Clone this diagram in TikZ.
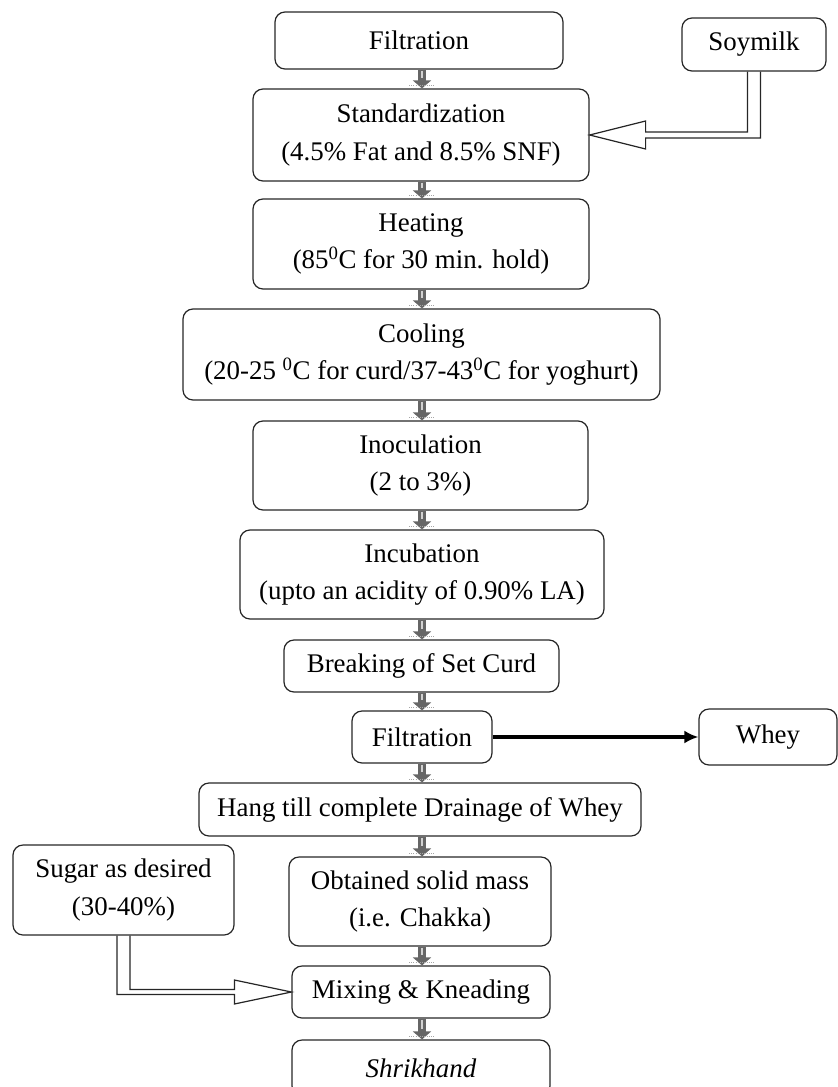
\documentclass[tikz,border=0pt]{standalone}
\usepackage{fontspec}
\setmainfont{Liberation Serif}
\usetikzlibrary{arrows.meta,calc}
\begin{document}
\begin{tikzpicture}[x=1bp,y=-1bp,
  box/.style={draw=black!85, line width=1.2bp, rounded corners=10bp, inner sep=0pt,
    align=center, font=\fontsize{27}{38}\selectfont},
  grayflow/.style={draw=black!60, line width=8bp, -{Triangle[width=18bp,length=8bp]}},
  grayshine/.style={draw=white!65!gray, line width=1.8bp},
  fringe/.style={draw=black!35, line width=1.2bp, dash pattern=on 1bp off 1.2bp},
  hollow/.style={draw=black!85, line width=1.2bp, line join=miter},
  bold/.style={draw=black, line width=3.5bp, -{Latex[length=14bp,width=13bp]}}]
\path[use as bounding box] (0,0) rectangle (838,1087);
\clip (0,0) rectangle (838,1087);

\node[box, minimum width=288bp, minimum height=57bp] (f1) at (419,40.5) {Filtration};
\node[box, minimum width=336bp, minimum height=92bp] (std) at (421,135) {Standardization\\(4.5\% Fat and 8.5\% SNF)};
\node[box, minimum width=144bp, minimum height=53bp] (soy) at (754,44.5) {Soymilk};
\node[box, minimum width=336bp, minimum height=90bp] (heat) at (421,244) {Heating\\(85\textsuperscript{0}C for 30 min. hold)};
\node[box, minimum width=477bp, minimum height=91bp] (cool) at (421.5,354.5) {Cooling\\(20-25 \textsuperscript{0}C for curd/37-43\textsuperscript{0}C for yoghurt)};
\node[box, minimum width=335bp, minimum height=89bp] (inoc) at (420.5,465.5) {Inoculation\\(2 to 3\%)};
\node[box, minimum width=364bp, minimum height=89bp] (incub) at (422,574.5) {Incubation\\(upto an acidity of 0.90\% LA)};
\node[box, minimum width=275bp, minimum height=52bp] (brk) at (421.5,666) {Breaking of Set Curd};
\node[box, minimum width=140bp, minimum height=52bp] (f2) at (422,737) {Filtration};
\node[box, minimum width=138bp, minimum height=56bp] (whey) at (768,737) {Whey};
\node[box, minimum width=442bp, minimum height=53bp] (hang) at (420,809.5) {Hang till complete Drainage of Whey};
\node[box, minimum width=221bp, minimum height=90bp] (sugar) at (123.5,890) {Sugar as desired\\(30-40\%)};
\node[box, minimum width=262bp, minimum height=89bp] (obt) at (420,901.5) {Obtained solid mass\\(i.e. Chakka)};
\node[box, minimum width=258bp, minimum height=52bp] (mix) at (421,992) {Mixing \& Kneading};
\node[box, minimum width=258bp, minimum height=56bp] (shr) at (421,1068) {\textit{Shrikhand}};

\coordinate (col) at (422,0);
\foreach \a/\b in {f1/std, std/heat, heat/cool, cool/inoc, inoc/incub, incub/brk, brk/f2, f2/hang, hang/obt, obt/mix, mix/shr}{
  \draw[grayflow] (\a.south -| col) -- (\b.north -| col);
  \draw[grayshine] ($(\a.south -| col)+(0,1)$) -- ($(\b.north -| col)+(0,-10)$);
  \draw[fringe] ($(\b.north -| col)+(-13,-3)$) -- ($(\b.north -| col)+(13,-3)$);
}

% Soymilk hollow arrow into Standardization
\draw[hollow] ($(soy.south)+(-6.5,0)$) |- ($(std.east)+(56,-3)$) -- ($(std.east)+(56,-14)$)
  -- (std.east) -- ($(std.east)+(56,14)$) -- ($(std.east)+(56,3)$) -| ($(soy.south)+(6.5,0)$);

% Sugar hollow arrow into Mixing
\draw[hollow] ($(sugar.south)+(6.5,0)$) |- ($(mix.west)+(-57,-2.5)$) -- ($(mix.west)+(-57,-12)$)
  -- (mix.west) -- ($(mix.west)+(-57,12)$) -- ($(mix.west)+(-57,2.5)$) -| ($(sugar.south)+(-6.5,0)$);

% Whey arrow
\draw[bold] (f2.east) -- (whey.west);
\end{tikzpicture}
\end{document}
